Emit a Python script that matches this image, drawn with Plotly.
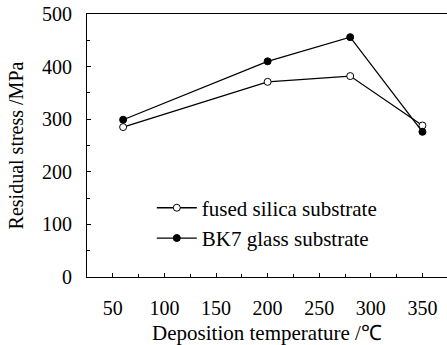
import plotly.graph_objects as go

temps = [60, 200, 280, 350]
fused_silica = [285, 371, 382, 288]
bk7_glass = [299, 410, 456, 276]
x_ticks = [50, 100, 150, 200, 250, 300, 350]
y_ticks = [0, 100, 200, 300, 400, 500]

FONT = "Liberation Serif, Times New Roman, serif"
fig = go.Figure()
fig.add_trace(go.Scatter(
    x=temps, y=fused_silica, mode="lines+markers", name="fused silica substrate",
    line=dict(color="black", width=1.3),
    marker=dict(symbol="circle", size=7, color="white", line=dict(color="black", width=1))))
fig.add_trace(go.Scatter(
    x=temps, y=bk7_glass, mode="lines+markers", name="BK7 glass substrate",
    line=dict(color="black", width=1.3),
    marker=dict(symbol="circle", size=7, color="black", line=dict(color="black", width=1))))

fig.update_layout(
    width=447, height=345,
    margin=dict(l=87, r=0, t=14, b=68),
    paper_bgcolor="white", plot_bgcolor="white",
    font=dict(family=FONT, size=20, color="black"),
    showlegend=True,
    legend=dict(x=0.18, y=0.34, xanchor="left", yanchor="top",
                bgcolor="rgba(0,0,0,0)", font=dict(size=21, family=FONT, color="black"),
                tracegroupgap=0, itemwidth=40),
)
fig.update_xaxes(
    range=[25, 373.8], tickvals=x_ticks, ticktext=[str(v) for v in x_ticks],
    tickfont=dict(family=FONT, size=20, color="black"),
    ticks="inside", ticklen=4, tickwidth=1, tickcolor="black",
    minor=dict(ticks="inside", ticklen=3, dtick=25, tick0=25, tickcolor="black"),
    showline=True, linecolor="black", linewidth=1, mirror=True,
    showgrid=False, zeroline=False,
    title=dict(text="Deposition temperature /℃", font=dict(size=21, family=FONT, color="black"), standoff=7),
    ticklabelstandoff=13,
)
fig.update_yaxes(
    range=[0, 500], tickvals=y_ticks, ticktext=[str(v) for v in y_ticks],
    tickfont=dict(family=FONT, size=20, color="black"),
    ticks="inside", ticklen=4, tickwidth=1, tickcolor="black",
    minor=dict(ticks="inside", ticklen=3, dtick=50, tickcolor="black"),
    showline=True, linecolor="black", linewidth=1,
    showgrid=False, zeroline=False,
    title=dict(text="Residual stress /MPa", font=dict(size=20, family=FONT, color="black"), standoff=13),
    ticklabelstandoff=10,
)
fig.write_html("out.html")
